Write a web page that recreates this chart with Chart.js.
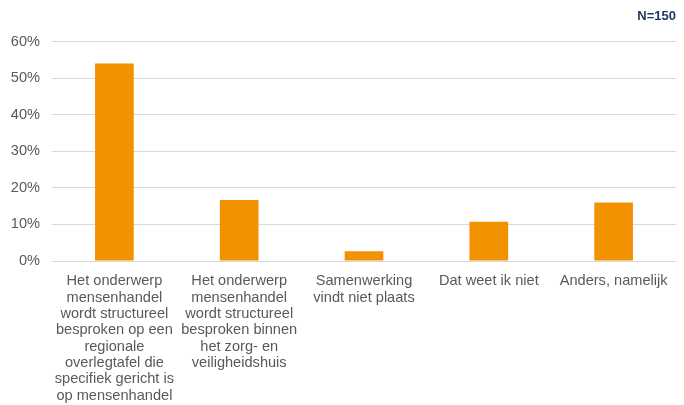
<!DOCTYPE html>
<html>
<head>
<meta charset="utf-8">
<script src="https://cdn.jsdelivr.net/npm/chart.js@4"></script>
<style>
  html, body { margin: 0; padding: 0; background: #ffffff; }
  #wrap { width: 684px; height: 405px; }
</style>
</head>
<body>
<div id="wrap"><canvas id="samenwerkingChart" width="684" height="405"></canvas></div>
<script>
const categories = [
    ["Het onderwerp", "mensenhandel", "wordt structureel", "besproken op een", "regionale", "overlegtafel die", "specifiek gericht is", "op mensenhandel"],
    ["Het onderwerp", "mensenhandel", "wordt structureel", "besproken binnen", "het zorg- en", "veiligheidshuis"],
    ["Samenwerking", "vindt niet plaats"],
    ["Dat weet ik niet"],
    ["Anders, namelijk"],
];
// percentages of respondents
const shares = [54.0, 16.7, 2.7, 10.7, 16.0];
const sampleLabel = "N=150";
const yTicks = [0, 10, 20, 30, 40, 50, 60];

const ctx = document.getElementById("samenwerkingChart").getContext("2d");

new Chart(ctx, {
    type: "bar",
    data: {
        labels: categories,
        datasets: [{
            data: shares,
            backgroundColor: "#f39200",
            borderWidth: 0,
            categoryPercentage: 1.0,
            barPercentage: 0.31,
        }],
    },
    options: {
        responsive: false,
        animation: false,
        layout: { padding: { top: 0, right: 8, bottom: 0, left: 0 } },
        plugins: {
            legend: { display: false },
            tooltip: { enabled: false },
            title: {
                display: true,
                text: sampleLabel,
                align: "end",
                color: "#1f3864",
                font: { family: "Liberation Sans", size: 13, weight: "bold" },
                padding: { top: 9, bottom: 17 },
            },
        },
        scales: {
            x: {
                afterFit: (axis) => {
                    axis.height = 144;
                },
                grid: { display: false },
                border: { display: false },
                ticks: {
                    color: "#595959",
                    font: { family: "Liberation Sans", size: 14.6, lineHeight: 1.12 },
                    maxRotation: 0,
                    autoSkip: false,
                    padding: 4,
                },
            },
            y: {
                min: 0,
                max: 60,
                afterBuildTicks: (axis) => {
                    axis.ticks = yTicks.map((v) => ({ value: v }));
                },
                afterFit: (axis) => {
                    axis.width = 52;
                },
                grid: { color: "#d9d9d9", lineWidth: 1, drawTicks: false },
                border: { display: false },
                ticks: {
                    color: "#595959",
                    font: { family: "Liberation Sans", size: 14.6 },
                    padding: 12,
                    callback: (v) => v + "%",
                },
            },
        },
    },
});
</script>
</body>
</html>
